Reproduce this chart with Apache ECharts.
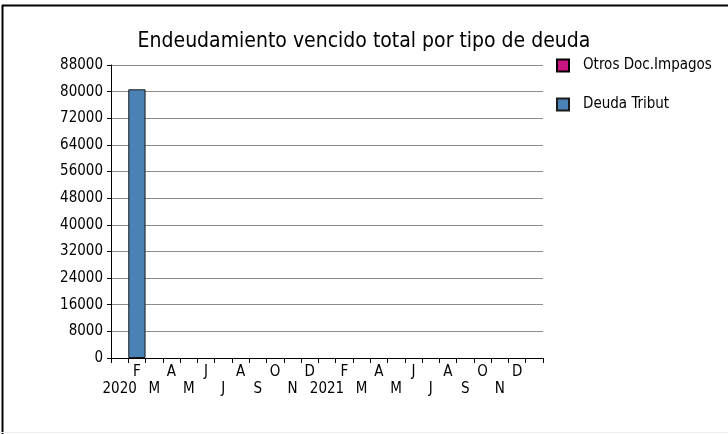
<!DOCTYPE html>
<html>
<head>
<meta charset="utf-8">
<script src="https://cdn.jsdelivr.net/npm/echarts@6/dist/echarts.min.js"></script>
<style>
    html, body { margin: 0; padding: 0; background: #fff; }
    #chart { width: 728px; height: 434px; }
</style>
</head>
<body>
<div id="chart"></div>
<script>
// meses del eje (ene 2020 .. ene 2022)
var months = ['2020-01', '2020-02', '2020-03', '2020-04', '2020-05', '2020-06', '2020-07', '2020-08',
    '2020-09', '2020-10', '2020-11', '2020-12', '2021-01', '2021-02', '2021-03', '2021-04',
    '2021-05', '2021-06', '2021-07', '2021-08', '2021-09', '2021-10', '2021-11', '2021-12', '2022-01'];
var monthLabels = ['2020', 'F', 'M', 'A', 'M', 'J', 'J', 'A', 'S', 'O', 'N', 'D',
    '2021', 'F', 'M', 'A', 'M', 'J', 'J', 'A', 'S', 'O', 'N', 'D', ''];

// series
var otrosDocImpagos = [null, null, null, null, null, null, null, null, null, null, null, null,
    null, null, null, null, null, null, null, null, null, null, null, null, null];
var deudaTribut = [null, 80700, null, null, null, null, null, null, null, null, null, null,
    null, null, null, null, null, null, null, null, null, null, null, null, null];

var yTicks = { min: 0, max: 88000, step: 8000 };

var font = '"Liberation Sans Narrow", "DejaVu Sans Condensed", "Liberation Sans", sans-serif';

var chart = echarts.init(document.getElementById('chart'));
chart.setOption({
    backgroundColor: '#fff',
    animation: false,
    title: {
        text: 'Endeudamiento vencido total por tipo de deuda',
        left: 'center',
        top: 26,
        textStyle: { fontFamily: font, fontSize: 21, fontWeight: 'normal', color: '#000' }
    },
    legend: {
        orient: 'vertical',
        left: 556,
        top: 58,
        padding: 0,
        itemWidth: 12,
        itemHeight: 12,
        itemGap: 24,
        icon: 'rect',
        textStyle: { fontFamily: font, fontSize: 15, color: '#000', padding: [0, 0, 0, 9] },
        data: ['Otros Doc.Impagos', 'Deuda Tribut']
    },
    grid: { left: 111, right: 185, top: 65, bottom: 76, containLabel: false },
    xAxis: {
        type: 'category',
        data: months,
        boundaryGap: true,
        axisLine: { lineStyle: { color: '#000', width: 1 } },
        axisTick: {
            show: true,
            interval: 0,
            length: 5,
            lineStyle: { color: '#000' }
        },
        axisLabel: {
            interval: 0,
            margin: 6,
            fontFamily: font,
            fontSize: 15,
            lineHeight: 17,
            color: '#000',
            formatter: function (value, index) {
                var label = monthLabels[index];
                return index % 2 ? label : '\n' + label;
            }
        },
        splitLine: { show: false }
    },
    yAxis: {
        type: 'value',
        min: yTicks.min,
        max: yTicks.max,
        interval: yTicks.step,
        axisLine: { show: true, lineStyle: { color: '#000', width: 1 } },
        axisTick: { show: true, length: 4, lineStyle: { color: '#000' } },
        axisLabel: {
            margin: 8,
            fontFamily: font,
            fontSize: 15,
            color: '#000',
            formatter: function (v) { return String(v); }
        },
        splitLine: { lineStyle: { color: '#8c8c8c', width: 1 } }
    },
    series: [{
        name: 'Otros Doc.Impagos',
        type: 'bar',
        stack: 'total',
        barCategoryGap: '0%',
        itemStyle: { color: '#c8157f', borderColor: '#000', borderWidth: 1 },
        data: otrosDocImpagos
    }, {
        name: 'Deuda Tribut',
        type: 'bar',
        stack: 'total',
        barCategoryGap: '0%',
        itemStyle: { color: '#4a82b6', borderColor: '#1a1a1a', borderWidth: 1 },
        data: deudaTribut
    }],
    graphic: [{
        type: 'line',
        shape: { x1: 2.5, y1: 5, x2: 2.5, y2: 434 },
        style: { stroke: '#000', lineWidth: 2 }
    }, {
        type: 'line',
        shape: { x1: 2, y1: 5.5, x2: 728, y2: 5.5 },
        style: { stroke: '#000', lineWidth: 2 }
    }, {
        type: 'line',
        shape: { x1: 0, y1: 432.5, x2: 728, y2: 432.5 },
        style: { stroke: '#eeeeee', lineWidth: 1 }
    }]
});
</script>
</body>
</html>
